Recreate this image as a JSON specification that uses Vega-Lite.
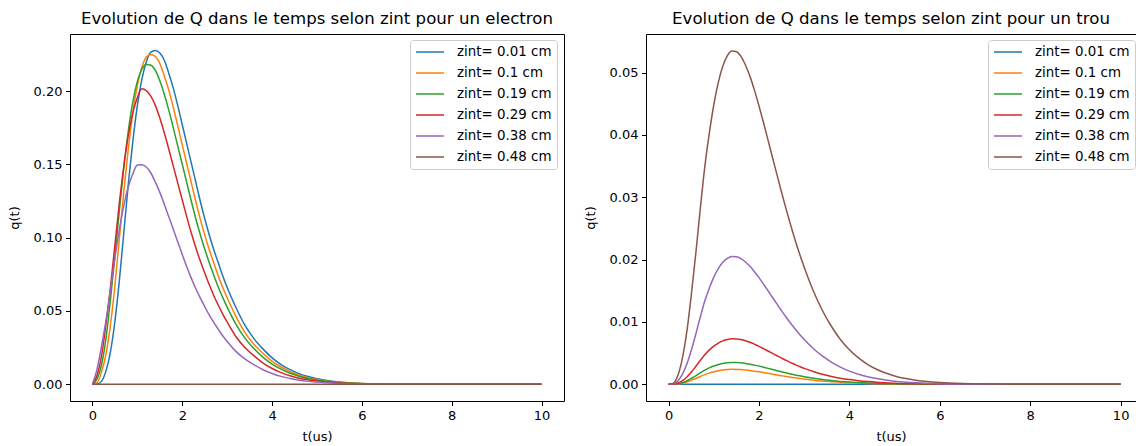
{
"$schema": "https://vega.github.io/schema/vega-lite/v6.json",
"background": "white",
"padding": {"left": 7, "top": 10, "right": 0, "bottom": 0},
"spacing": 82,
"bounds": "flush",
"config": {
 "font": "DejaVu Sans",
 "view": {"stroke": "black", "strokeWidth": 1},
 "axis": {"grid": false, "domain": false, "tickColor": "black", "tickSize": 4.5, "tickWidth": 1, "labelColor": "black", "labelFontSize": 13, "labelFont": "DejaVu Sans", "titleFont": "DejaVu Sans", "titleFontSize": 13, "titleFontWeight": "normal", "titleColor": "black", "labelPadding": 3.5},
 "axisY": {"titlePadding": 12},
 "axisX": {"titlePadding": 8},
 "title": {"fontSize": 16.6, "fontWeight": "normal", "color": "black", "font": "DejaVu Sans", "offset": 6, "anchor": "middle"},
 "legend": {"symbolType": "stroke", "symbolSize": 784, "symbolStrokeWidth": 1.5, "labelFontSize": 13.4, "labelFont": "DejaVu Sans", "labelColor": "black", "labelOffset": 12, "padding": 5, "fillColor": "white", "strokeColor": "#cccccc", "cornerRadius": 3, "clipHeight": 14, "rowPadding": 7, "labelLimit": 300},
 "line": {"strokeWidth": 1.5, "interpolate": "monotone"}
},
"datasets": {
"e": [
{"s":"zint= 0.01 cm","t":0,"q":0},{"s":"zint= 0.01 cm","t":0.1,"q":0.0002},{"s":"zint= 0.01 cm","t":0.2,"q":0.002},{"s":"zint= 0.01 cm","t":0.3,"q":0.009},{"s":"zint= 0.01 cm","t":0.4,"q":0.022},{"s":"zint= 0.01 cm","t":0.5,"q":0.043},{"s":"zint= 0.01 cm","t":0.6,"q":0.071},{"s":"zint= 0.01 cm","t":0.7,"q":0.104},{"s":"zint= 0.01 cm","t":0.8,"q":0.137},{"s":"zint= 0.01 cm","t":0.9,"q":0.166},{"s":"zint= 0.01 cm","t":1.0,"q":0.19},{"s":"zint= 0.01 cm","t":1.1,"q":0.208},{"s":"zint= 0.01 cm","t":1.2,"q":0.22},{"s":"zint= 0.01 cm","t":1.3,"q":0.2265},{"s":"zint= 0.01 cm","t":1.4,"q":0.2277},{"s":"zint= 0.01 cm","t":1.5,"q":0.226},{"s":"zint= 0.01 cm","t":1.6,"q":0.221},{"s":"zint= 0.01 cm","t":1.7,"q":0.212},{"s":"zint= 0.01 cm","t":1.8,"q":0.202},{"s":"zint= 0.01 cm","t":1.9,"q":0.19},{"s":"zint= 0.01 cm","t":2.0,"q":0.177},{"s":"zint= 0.01 cm","t":2.1,"q":0.164},{"s":"zint= 0.01 cm","t":2.2,"q":0.151},{"s":"zint= 0.01 cm","t":2.3,"q":0.138},{"s":"zint= 0.01 cm","t":2.4,"q":0.125},{"s":"zint= 0.01 cm","t":2.5,"q":0.113},{"s":"zint= 0.01 cm","t":2.6,"q":0.102},{"s":"zint= 0.01 cm","t":2.7,"q":0.092},{"s":"zint= 0.01 cm","t":2.8,"q":0.083},{"s":"zint= 0.01 cm","t":2.9,"q":0.074},{"s":"zint= 0.01 cm","t":3.0,"q":0.066},{"s":"zint= 0.01 cm","t":3.2,"q":0.052},{"s":"zint= 0.01 cm","t":3.4,"q":0.04},{"s":"zint= 0.01 cm","t":3.6,"q":0.031},{"s":"zint= 0.01 cm","t":3.8,"q":0.024},{"s":"zint= 0.01 cm","t":4.0,"q":0.018},{"s":"zint= 0.01 cm","t":4.2,"q":0.0135},{"s":"zint= 0.01 cm","t":4.4,"q":0.01},{"s":"zint= 0.01 cm","t":4.6,"q":0.0073},{"s":"zint= 0.01 cm","t":4.8,"q":0.0053},{"s":"zint= 0.01 cm","t":5.0,"q":0.0038},{"s":"zint= 0.01 cm","t":5.5,"q":0.0016},{"s":"zint= 0.01 cm","t":6,"q":0.0006},{"s":"zint= 0.01 cm","t":6.5,"q":0.0002},{"s":"zint= 0.01 cm","t":7,"q":0.0001},{"s":"zint= 0.01 cm","t":8,"q":0},{"s":"zint= 0.01 cm","t":10,"q":0},
{"s":"zint= 0.1 cm","t":0,"q":0},{"s":"zint= 0.1 cm","t":0.1,"q":0.001},{"s":"zint= 0.1 cm","t":0.2,"q":0.0082},{"s":"zint= 0.1 cm","t":0.3,"q":0.0204},{"s":"zint= 0.1 cm","t":0.4,"q":0.0404},{"s":"zint= 0.1 cm","t":0.5,"q":0.0674},{"s":"zint= 0.1 cm","t":0.6,"q":0.0995},{"s":"zint= 0.1 cm","t":0.7,"q":0.1321},{"s":"zint= 0.1 cm","t":0.8,"q":0.1611},{"s":"zint= 0.1 cm","t":0.9,"q":0.1853},{"s":"zint= 0.1 cm","t":1.0,"q":0.2037},{"s":"zint= 0.1 cm","t":1.1,"q":0.2162},{"s":"zint= 0.1 cm","t":1.2,"q":0.2232},{"s":"zint= 0.1 cm","t":1.3,"q":0.2249},{"s":"zint= 0.1 cm","t":1.4,"q":0.2235},{"s":"zint= 0.1 cm","t":1.5,"q":0.2188},{"s":"zint= 0.1 cm","t":1.6,"q":0.2103},{"s":"zint= 0.1 cm","t":1.7,"q":0.2006},{"s":"zint= 0.1 cm","t":1.8,"q":0.1889},{"s":"zint= 0.1 cm","t":1.9,"q":0.1762},{"s":"zint= 0.1 cm","t":2.0,"q":0.1633},{"s":"zint= 0.1 cm","t":2.1,"q":0.1505},{"s":"zint= 0.1 cm","t":2.2,"q":0.1376},{"s":"zint= 0.1 cm","t":2.3,"q":0.1248},{"s":"zint= 0.1 cm","t":2.4,"q":0.1128},{"s":"zint= 0.1 cm","t":2.5,"q":0.1019},{"s":"zint= 0.1 cm","t":2.6,"q":0.0919},{"s":"zint= 0.1 cm","t":2.7,"q":0.0829},{"s":"zint= 0.1 cm","t":2.8,"q":0.074},{"s":"zint= 0.1 cm","t":2.9,"q":0.066},{"s":"zint= 0.1 cm","t":3.0,"q":0.059},{"s":"zint= 0.1 cm","t":3.2,"q":0.046},{"s":"zint= 0.1 cm","t":3.4,"q":0.0351},{"s":"zint= 0.1 cm","t":3.6,"q":0.0271},{"s":"zint= 0.1 cm","t":3.8,"q":0.021},{"s":"zint= 0.1 cm","t":4.0,"q":0.0157},{"s":"zint= 0.1 cm","t":4.2,"q":0.0118},{"s":"zint= 0.1 cm","t":4.4,"q":0.0086},{"s":"zint= 0.1 cm","t":4.6,"q":0.0063},{"s":"zint= 0.1 cm","t":4.8,"q":0.0045},{"s":"zint= 0.1 cm","t":5.0,"q":0.0033},{"s":"zint= 0.1 cm","t":5.5,"q":0.0014},{"s":"zint= 0.1 cm","t":6,"q":0.0005},{"s":"zint= 0.1 cm","t":6.5,"q":0.0002},{"s":"zint= 0.1 cm","t":7,"q":0.0001},{"s":"zint= 0.1 cm","t":8,"q":0},{"s":"zint= 0.1 cm","t":10,"q":0},
{"s":"zint= 0.19 cm","t":0,"q":0},{"s":"zint= 0.19 cm","t":0.1,"q":0.0035},{"s":"zint= 0.19 cm","t":0.2,"q":0.013},{"s":"zint= 0.19 cm","t":0.3,"q":0.031},{"s":"zint= 0.19 cm","t":0.4,"q":0.0574},{"s":"zint= 0.19 cm","t":0.5,"q":0.0872},{"s":"zint= 0.19 cm","t":0.6,"q":0.1188},{"s":"zint= 0.19 cm","t":0.7,"q":0.1482},{"s":"zint= 0.19 cm","t":0.8,"q":0.1732},{"s":"zint= 0.19 cm","t":0.9,"q":0.1928},{"s":"zint= 0.19 cm","t":1.0,"q":0.2066},{"s":"zint= 0.19 cm","t":1.1,"q":0.2149},{"s":"zint= 0.19 cm","t":1.2,"q":0.2181},{"s":"zint= 0.19 cm","t":1.3,"q":0.2176},{"s":"zint= 0.19 cm","t":1.4,"q":0.2141},{"s":"zint= 0.19 cm","t":1.5,"q":0.207},{"s":"zint= 0.19 cm","t":1.6,"q":0.1978},{"s":"zint= 0.19 cm","t":1.7,"q":0.187},{"s":"zint= 0.19 cm","t":1.8,"q":0.1749},{"s":"zint= 0.19 cm","t":1.9,"q":0.1624},{"s":"zint= 0.19 cm","t":2.0,"q":0.15},{"s":"zint= 0.19 cm","t":2.1,"q":0.1375},{"s":"zint= 0.19 cm","t":2.2,"q":0.125},{"s":"zint= 0.19 cm","t":2.3,"q":0.1131},{"s":"zint= 0.19 cm","t":2.4,"q":0.1021},{"s":"zint= 0.19 cm","t":2.5,"q":0.0922},{"s":"zint= 0.19 cm","t":2.6,"q":0.0831},{"s":"zint= 0.19 cm","t":2.7,"q":0.0745},{"s":"zint= 0.19 cm","t":2.8,"q":0.0664},{"s":"zint= 0.19 cm","t":2.9,"q":0.0593},{"s":"zint= 0.19 cm","t":3.0,"q":0.0526},{"s":"zint= 0.19 cm","t":3.2,"q":0.0407},{"s":"zint= 0.19 cm","t":3.4,"q":0.0313},{"s":"zint= 0.19 cm","t":3.6,"q":0.0242},{"s":"zint= 0.19 cm","t":3.8,"q":0.0184},{"s":"zint= 0.19 cm","t":4.0,"q":0.0138},{"s":"zint= 0.19 cm","t":4.2,"q":0.0103},{"s":"zint= 0.19 cm","t":4.4,"q":0.0075},{"s":"zint= 0.19 cm","t":4.6,"q":0.0055},{"s":"zint= 0.19 cm","t":4.8,"q":0.0039},{"s":"zint= 0.19 cm","t":5.0,"q":0.0029},{"s":"zint= 0.19 cm","t":5.5,"q":0.0012},{"s":"zint= 0.19 cm","t":6,"q":0.0004},{"s":"zint= 0.19 cm","t":6.5,"q":0.0002},{"s":"zint= 0.19 cm","t":7,"q":0.0001},{"s":"zint= 0.19 cm","t":8,"q":0},{"s":"zint= 0.19 cm","t":10,"q":0},
{"s":"zint= 0.29 cm","t":0,"q":0},{"s":"zint= 0.29 cm","t":0.1,"q":0.006},{"s":"zint= 0.29 cm","t":0.2,"q":0.019},{"s":"zint= 0.29 cm","t":0.3,"q":0.0406},{"s":"zint= 0.29 cm","t":0.4,"q":0.0658},{"s":"zint= 0.29 cm","t":0.5,"q":0.0951},{"s":"zint= 0.29 cm","t":0.6,"q":0.124},{"s":"zint= 0.29 cm","t":0.7,"q":0.1492},{"s":"zint= 0.29 cm","t":0.8,"q":0.1699},{"s":"zint= 0.29 cm","t":0.9,"q":0.1854},{"s":"zint= 0.29 cm","t":1.0,"q":0.1955},{"s":"zint= 0.29 cm","t":1.1,"q":0.2015},{"s":"zint= 0.29 cm","t":1.2,"q":0.2003},{"s":"zint= 0.29 cm","t":1.3,"q":0.1965},{"s":"zint= 0.29 cm","t":1.4,"q":0.1902},{"s":"zint= 0.29 cm","t":1.5,"q":0.1816},{"s":"zint= 0.29 cm","t":1.6,"q":0.1715},{"s":"zint= 0.29 cm","t":1.7,"q":0.1603},{"s":"zint= 0.29 cm","t":1.8,"q":0.1488},{"s":"zint= 0.29 cm","t":1.9,"q":0.1372},{"s":"zint= 0.29 cm","t":2.0,"q":0.1257},{"s":"zint= 0.29 cm","t":2.1,"q":0.1142},{"s":"zint= 0.29 cm","t":2.2,"q":0.1033},{"s":"zint= 0.29 cm","t":2.3,"q":0.0933},{"s":"zint= 0.29 cm","t":2.4,"q":0.0842},{"s":"zint= 0.29 cm","t":2.5,"q":0.0759},{"s":"zint= 0.29 cm","t":2.6,"q":0.068},{"s":"zint= 0.29 cm","t":2.7,"q":0.0606},{"s":"zint= 0.29 cm","t":2.8,"q":0.0541},{"s":"zint= 0.29 cm","t":2.9,"q":0.0479},{"s":"zint= 0.29 cm","t":3.0,"q":0.0424},{"s":"zint= 0.29 cm","t":3.2,"q":0.0323},{"s":"zint= 0.29 cm","t":3.4,"q":0.025},{"s":"zint= 0.29 cm","t":3.6,"q":0.0194},{"s":"zint= 0.29 cm","t":3.8,"q":0.0145},{"s":"zint= 0.29 cm","t":4.0,"q":0.0108},{"s":"zint= 0.29 cm","t":4.2,"q":0.008},{"s":"zint= 0.29 cm","t":4.4,"q":0.0058},{"s":"zint= 0.29 cm","t":4.6,"q":0.0042},{"s":"zint= 0.29 cm","t":4.8,"q":0.0031},{"s":"zint= 0.29 cm","t":5.0,"q":0.0022},{"s":"zint= 0.29 cm","t":5.5,"q":0.0009},{"s":"zint= 0.29 cm","t":6,"q":0.0003},{"s":"zint= 0.29 cm","t":6.5,"q":0.0001},{"s":"zint= 0.29 cm","t":7,"q":0.0001},{"s":"zint= 0.29 cm","t":8,"q":0},{"s":"zint= 0.29 cm","t":10,"q":0},
{"s":"zint= 0.38 cm","t":0,"q":0},{"s":"zint= 0.38 cm","t":0.1,"q":0.01},{"s":"zint= 0.38 cm","t":0.2,"q":0.0256},{"s":"zint= 0.38 cm","t":0.3,"q":0.0432},{"s":"zint= 0.38 cm","t":0.4,"q":0.0643},{"s":"zint= 0.38 cm","t":0.5,"q":0.0861},{"s":"zint= 0.38 cm","t":0.6,"q":0.1057},{"s":"zint= 0.38 cm","t":0.7,"q":0.1222},{"s":"zint= 0.38 cm","t":0.8,"q":0.1349},{"s":"zint= 0.38 cm","t":0.9,"q":0.1436},{"s":"zint= 0.38 cm","t":1.0,"q":0.1495},{"s":"zint= 0.38 cm","t":1.1,"q":0.1498},{"s":"zint= 0.38 cm","t":1.2,"q":0.1482},{"s":"zint= 0.38 cm","t":1.3,"q":0.1441},{"s":"zint= 0.38 cm","t":1.4,"q":0.1379},{"s":"zint= 0.38 cm","t":1.5,"q":0.1309},{"s":"zint= 0.38 cm","t":1.6,"q":0.1228},{"s":"zint= 0.38 cm","t":1.7,"q":0.1142},{"s":"zint= 0.38 cm","t":1.8,"q":0.1057},{"s":"zint= 0.38 cm","t":1.9,"q":0.0971},{"s":"zint= 0.38 cm","t":2.0,"q":0.0885},{"s":"zint= 0.38 cm","t":2.1,"q":0.0801},{"s":"zint= 0.38 cm","t":2.2,"q":0.0724},{"s":"zint= 0.38 cm","t":2.3,"q":0.0653},{"s":"zint= 0.38 cm","t":2.4,"q":0.0589},{"s":"zint= 0.38 cm","t":2.5,"q":0.053},{"s":"zint= 0.38 cm","t":2.6,"q":0.0473},{"s":"zint= 0.38 cm","t":2.7,"q":0.0422},{"s":"zint= 0.38 cm","t":2.8,"q":0.0376},{"s":"zint= 0.38 cm","t":2.9,"q":0.0331},{"s":"zint= 0.38 cm","t":3.0,"q":0.0292},{"s":"zint= 0.38 cm","t":3.2,"q":0.0223},{"s":"zint= 0.38 cm","t":3.4,"q":0.0172},{"s":"zint= 0.38 cm","t":3.6,"q":0.0133},{"s":"zint= 0.38 cm","t":3.8,"q":0.0099},{"s":"zint= 0.38 cm","t":4.0,"q":0.0074},{"s":"zint= 0.38 cm","t":4.2,"q":0.0054},{"s":"zint= 0.38 cm","t":4.4,"q":0.004},{"s":"zint= 0.38 cm","t":4.6,"q":0.0028},{"s":"zint= 0.38 cm","t":4.8,"q":0.002},{"s":"zint= 0.38 cm","t":5.0,"q":0.0015},{"s":"zint= 0.38 cm","t":5.5,"q":0.0006},{"s":"zint= 0.38 cm","t":6,"q":0.0002},{"s":"zint= 0.38 cm","t":6.5,"q":0.0001},{"s":"zint= 0.38 cm","t":7,"q":0},{"s":"zint= 0.38 cm","t":8,"q":0},{"s":"zint= 0.38 cm","t":10,"q":0},
{"s":"zint= 0.48 cm","t":0,"q":0},{"s":"zint= 0.48 cm","t":10,"q":0}
],
"h": [
{"s":"zint= 0.01 cm","t":0,"q":0},{"s":"zint= 0.01 cm","t":10,"q":0},
{"s":"zint= 0.1 cm","t":0,"q":0},{"s":"zint= 0.1 cm","t":0.1,"q":0.00001},{"s":"zint= 0.1 cm","t":0.2,"q":0.00006},{"s":"zint= 0.1 cm","t":0.3,"q":0.00018},{"s":"zint= 0.1 cm","t":0.4,"q":0.00037},{"s":"zint= 0.1 cm","t":0.5,"q":0.00064},{"s":"zint= 0.1 cm","t":0.6,"q":0.00094},{"s":"zint= 0.1 cm","t":0.7,"q":0.00126},{"s":"zint= 0.1 cm","t":0.8,"q":0.00156},{"s":"zint= 0.1 cm","t":0.9,"q":0.0018},{"s":"zint= 0.1 cm","t":1.0,"q":0.00201},{"s":"zint= 0.1 cm","t":1.1,"q":0.00217},{"s":"zint= 0.1 cm","t":1.2,"q":0.00229},{"s":"zint= 0.1 cm","t":1.3,"q":0.00236},{"s":"zint= 0.1 cm","t":1.4,"q":0.0024},{"s":"zint= 0.1 cm","t":1.5,"q":0.00239},{"s":"zint= 0.1 cm","t":1.6,"q":0.00236},{"s":"zint= 0.1 cm","t":1.7,"q":0.0023},{"s":"zint= 0.1 cm","t":1.8,"q":0.00222},{"s":"zint= 0.1 cm","t":1.9,"q":0.00211},{"s":"zint= 0.1 cm","t":2.0,"q":0.002},{"s":"zint= 0.1 cm","t":2.1,"q":0.00188},{"s":"zint= 0.1 cm","t":2.2,"q":0.00176},{"s":"zint= 0.1 cm","t":2.3,"q":0.00163},{"s":"zint= 0.1 cm","t":2.4,"q":0.0015},{"s":"zint= 0.1 cm","t":2.5,"q":0.00138},{"s":"zint= 0.1 cm","t":2.6,"q":0.00126},{"s":"zint= 0.1 cm","t":2.7,"q":0.00115},{"s":"zint= 0.1 cm","t":2.8,"q":0.00104},{"s":"zint= 0.1 cm","t":2.9,"q":0.00094},{"s":"zint= 0.1 cm","t":3.0,"q":0.00084},{"s":"zint= 0.1 cm","t":3.2,"q":0.00067},{"s":"zint= 0.1 cm","t":3.4,"q":0.00053},{"s":"zint= 0.1 cm","t":3.6,"q":0.00042},{"s":"zint= 0.1 cm","t":3.8,"q":0.00032},{"s":"zint= 0.1 cm","t":4.0,"q":0.00025},{"s":"zint= 0.1 cm","t":4.2,"q":0.00019},{"s":"zint= 0.1 cm","t":4.4,"q":0.00014},{"s":"zint= 0.1 cm","t":4.6,"q":0.00011},{"s":"zint= 0.1 cm","t":4.8,"q":0.00008},{"s":"zint= 0.1 cm","t":5.0,"q":0.00006},{"s":"zint= 0.1 cm","t":5.5,"q":0.00003},{"s":"zint= 0.1 cm","t":6,"q":0.00001},{"s":"zint= 0.1 cm","t":6.5,"q":0},{"s":"zint= 0.1 cm","t":7,"q":0},{"s":"zint= 0.1 cm","t":8,"q":0},{"s":"zint= 0.1 cm","t":10,"q":0},
{"s":"zint= 0.19 cm","t":0,"q":0},{"s":"zint= 0.19 cm","t":0.1,"q":0.00001},{"s":"zint= 0.19 cm","t":0.2,"q":0.00009},{"s":"zint= 0.19 cm","t":0.3,"q":0.00026},{"s":"zint= 0.19 cm","t":0.4,"q":0.00054},{"s":"zint= 0.19 cm","t":0.5,"q":0.00093},{"s":"zint= 0.19 cm","t":0.6,"q":0.00137},{"s":"zint= 0.19 cm","t":0.7,"q":0.00184},{"s":"zint= 0.19 cm","t":0.8,"q":0.00228},{"s":"zint= 0.19 cm","t":0.9,"q":0.00263},{"s":"zint= 0.19 cm","t":1.0,"q":0.00293},{"s":"zint= 0.19 cm","t":1.1,"q":0.00317},{"s":"zint= 0.19 cm","t":1.2,"q":0.00334},{"s":"zint= 0.19 cm","t":1.3,"q":0.00345},{"s":"zint= 0.19 cm","t":1.4,"q":0.0035},{"s":"zint= 0.19 cm","t":1.5,"q":0.00349},{"s":"zint= 0.19 cm","t":1.6,"q":0.00344},{"s":"zint= 0.19 cm","t":1.7,"q":0.00335},{"s":"zint= 0.19 cm","t":1.8,"q":0.00323},{"s":"zint= 0.19 cm","t":1.9,"q":0.00308},{"s":"zint= 0.19 cm","t":2.0,"q":0.00292},{"s":"zint= 0.19 cm","t":2.1,"q":0.00274},{"s":"zint= 0.19 cm","t":2.2,"q":0.00256},{"s":"zint= 0.19 cm","t":2.3,"q":0.00238},{"s":"zint= 0.19 cm","t":2.4,"q":0.00219},{"s":"zint= 0.19 cm","t":2.5,"q":0.00201},{"s":"zint= 0.19 cm","t":2.6,"q":0.00184},{"s":"zint= 0.19 cm","t":2.7,"q":0.00167},{"s":"zint= 0.19 cm","t":2.8,"q":0.00151},{"s":"zint= 0.19 cm","t":2.9,"q":0.00137},{"s":"zint= 0.19 cm","t":3.0,"q":0.00123},{"s":"zint= 0.19 cm","t":3.2,"q":0.00098},{"s":"zint= 0.19 cm","t":3.4,"q":0.00078},{"s":"zint= 0.19 cm","t":3.6,"q":0.00061},{"s":"zint= 0.19 cm","t":3.8,"q":0.00047},{"s":"zint= 0.19 cm","t":4.0,"q":0.00036},{"s":"zint= 0.19 cm","t":4.2,"q":0.00028},{"s":"zint= 0.19 cm","t":4.4,"q":0.00021},{"s":"zint= 0.19 cm","t":4.6,"q":0.00016},{"s":"zint= 0.19 cm","t":4.8,"q":0.00012},{"s":"zint= 0.19 cm","t":5.0,"q":0.00009},{"s":"zint= 0.19 cm","t":5.5,"q":0.00004},{"s":"zint= 0.19 cm","t":6,"q":0.00002},{"s":"zint= 0.19 cm","t":6.5,"q":0.00001},{"s":"zint= 0.19 cm","t":7,"q":0},{"s":"zint= 0.19 cm","t":8,"q":0},{"s":"zint= 0.19 cm","t":10,"q":0},
{"s":"zint= 0.29 cm","t":0,"q":0},{"s":"zint= 0.29 cm","t":0.1,"q":0.00002},{"s":"zint= 0.29 cm","t":0.2,"q":0.00018},{"s":"zint= 0.29 cm","t":0.3,"q":0.00055},{"s":"zint= 0.29 cm","t":0.4,"q":0.00113},{"s":"zint= 0.29 cm","t":0.5,"q":0.00193},{"s":"zint= 0.29 cm","t":0.6,"q":0.00285},{"s":"zint= 0.29 cm","t":0.7,"q":0.00383},{"s":"zint= 0.29 cm","t":0.8,"q":0.00475},{"s":"zint= 0.29 cm","t":0.9,"q":0.00549},{"s":"zint= 0.29 cm","t":1.0,"q":0.00612},{"s":"zint= 0.29 cm","t":1.1,"q":0.00661},{"s":"zint= 0.29 cm","t":1.2,"q":0.00696},{"s":"zint= 0.29 cm","t":1.3,"q":0.00719},{"s":"zint= 0.29 cm","t":1.4,"q":0.00729},{"s":"zint= 0.29 cm","t":1.5,"q":0.00728},{"s":"zint= 0.29 cm","t":1.6,"q":0.00718},{"s":"zint= 0.29 cm","t":1.7,"q":0.00699},{"s":"zint= 0.29 cm","t":1.8,"q":0.00674},{"s":"zint= 0.29 cm","t":1.9,"q":0.00643},{"s":"zint= 0.29 cm","t":2.0,"q":0.00609},{"s":"zint= 0.29 cm","t":2.1,"q":0.00572},{"s":"zint= 0.29 cm","t":2.2,"q":0.00534},{"s":"zint= 0.29 cm","t":2.3,"q":0.00496},{"s":"zint= 0.29 cm","t":2.4,"q":0.00458},{"s":"zint= 0.29 cm","t":2.5,"q":0.0042},{"s":"zint= 0.29 cm","t":2.6,"q":0.00383},{"s":"zint= 0.29 cm","t":2.7,"q":0.00349},{"s":"zint= 0.29 cm","t":2.8,"q":0.00315},{"s":"zint= 0.29 cm","t":2.9,"q":0.00285},{"s":"zint= 0.29 cm","t":3.0,"q":0.00256},{"s":"zint= 0.29 cm","t":3.2,"q":0.00205},{"s":"zint= 0.29 cm","t":3.4,"q":0.00162},{"s":"zint= 0.29 cm","t":3.6,"q":0.00127},{"s":"zint= 0.29 cm","t":3.8,"q":0.00098},{"s":"zint= 0.29 cm","t":4.0,"q":0.00076},{"s":"zint= 0.29 cm","t":4.2,"q":0.00058},{"s":"zint= 0.29 cm","t":4.4,"q":0.00044},{"s":"zint= 0.29 cm","t":4.6,"q":0.00033},{"s":"zint= 0.29 cm","t":4.8,"q":0.00025},{"s":"zint= 0.29 cm","t":5.0,"q":0.00018},{"s":"zint= 0.29 cm","t":5.5,"q":0.00009},{"s":"zint= 0.29 cm","t":6,"q":0.00004},{"s":"zint= 0.29 cm","t":6.5,"q":0.00002},{"s":"zint= 0.29 cm","t":7,"q":0.00001},{"s":"zint= 0.29 cm","t":8,"q":0},{"s":"zint= 0.29 cm","t":10,"q":0},
{"s":"zint= 0.38 cm","t":0,"q":0},{"s":"zint= 0.38 cm","t":0.1,"q":0.00006},{"s":"zint= 0.38 cm","t":0.2,"q":0.00051},{"s":"zint= 0.38 cm","t":0.3,"q":0.00154},{"s":"zint= 0.38 cm","t":0.4,"q":0.00318},{"s":"zint= 0.38 cm","t":0.5,"q":0.00543},{"s":"zint= 0.38 cm","t":0.6,"q":0.008},{"s":"zint= 0.38 cm","t":0.7,"q":0.01076},{"s":"zint= 0.38 cm","t":0.8,"q":0.01335},{"s":"zint= 0.38 cm","t":0.9,"q":0.01542},{"s":"zint= 0.38 cm","t":1.0,"q":0.01718},{"s":"zint= 0.38 cm","t":1.1,"q":0.01855},{"s":"zint= 0.38 cm","t":1.2,"q":0.01956},{"s":"zint= 0.38 cm","t":1.3,"q":0.02019},{"s":"zint= 0.38 cm","t":1.4,"q":0.02048},{"s":"zint= 0.38 cm","t":1.5,"q":0.02044},{"s":"zint= 0.38 cm","t":1.6,"q":0.02015},{"s":"zint= 0.38 cm","t":1.7,"q":0.01962},{"s":"zint= 0.38 cm","t":1.8,"q":0.01892},{"s":"zint= 0.38 cm","t":1.9,"q":0.01806},{"s":"zint= 0.38 cm","t":2.0,"q":0.0171},{"s":"zint= 0.38 cm","t":2.1,"q":0.01607},{"s":"zint= 0.38 cm","t":2.2,"q":0.01501},{"s":"zint= 0.38 cm","t":2.3,"q":0.01392},{"s":"zint= 0.38 cm","t":2.4,"q":0.01285},{"s":"zint= 0.38 cm","t":2.5,"q":0.01179},{"s":"zint= 0.38 cm","t":2.6,"q":0.01076},{"s":"zint= 0.38 cm","t":2.7,"q":0.00979},{"s":"zint= 0.38 cm","t":2.8,"q":0.00886},{"s":"zint= 0.38 cm","t":2.9,"q":0.008},{"s":"zint= 0.38 cm","t":3.0,"q":0.0072},{"s":"zint= 0.38 cm","t":3.2,"q":0.00575},{"s":"zint= 0.38 cm","t":3.4,"q":0.00455},{"s":"zint= 0.38 cm","t":3.6,"q":0.00357},{"s":"zint= 0.38 cm","t":3.8,"q":0.00276},{"s":"zint= 0.38 cm","t":4.0,"q":0.00212},{"s":"zint= 0.38 cm","t":4.2,"q":0.00162},{"s":"zint= 0.38 cm","t":4.4,"q":0.00123},{"s":"zint= 0.38 cm","t":4.6,"q":0.00092},{"s":"zint= 0.38 cm","t":4.8,"q":0.0007},{"s":"zint= 0.38 cm","t":5.0,"q":0.00051},{"s":"zint= 0.38 cm","t":5.5,"q":0.00024},{"s":"zint= 0.38 cm","t":6,"q":0.00011},{"s":"zint= 0.38 cm","t":6.5,"q":0.00005},{"s":"zint= 0.38 cm","t":7,"q":0.00002},{"s":"zint= 0.38 cm","t":8,"q":0},{"s":"zint= 0.38 cm","t":10,"q":0},
{"s":"zint= 0.48 cm","t":0,"q":0},{"s":"zint= 0.48 cm","t":0.1,"q":0.00016},{"s":"zint= 0.48 cm","t":0.2,"q":0.00134},{"s":"zint= 0.48 cm","t":0.3,"q":0.00401},{"s":"zint= 0.48 cm","t":0.4,"q":0.00829},{"s":"zint= 0.48 cm","t":0.5,"q":0.01418},{"s":"zint= 0.48 cm","t":0.6,"q":0.02087},{"s":"zint= 0.48 cm","t":0.7,"q":0.02809},{"s":"zint= 0.48 cm","t":0.8,"q":0.03483},{"s":"zint= 0.48 cm","t":0.9,"q":0.04023},{"s":"zint= 0.48 cm","t":1.0,"q":0.04483},{"s":"zint= 0.48 cm","t":1.1,"q":0.04842},{"s":"zint= 0.48 cm","t":1.2,"q":0.05104},{"s":"zint= 0.48 cm","t":1.3,"q":0.0527},{"s":"zint= 0.48 cm","t":1.4,"q":0.05345},{"s":"zint= 0.48 cm","t":1.5,"q":0.05334},{"s":"zint= 0.48 cm","t":1.6,"q":0.05259},{"s":"zint= 0.48 cm","t":1.7,"q":0.0512},{"s":"zint= 0.48 cm","t":1.8,"q":0.04938},{"s":"zint= 0.48 cm","t":1.9,"q":0.04713},{"s":"zint= 0.48 cm","t":2.0,"q":0.04462},{"s":"zint= 0.48 cm","t":2.1,"q":0.04194},{"s":"zint= 0.48 cm","t":2.2,"q":0.03916},{"s":"zint= 0.48 cm","t":2.3,"q":0.03633},{"s":"zint= 0.48 cm","t":2.4,"q":0.03354},{"s":"zint= 0.48 cm","t":2.5,"q":0.03076},{"s":"zint= 0.48 cm","t":2.6,"q":0.02809},{"s":"zint= 0.48 cm","t":2.7,"q":0.02555},{"s":"zint= 0.48 cm","t":2.8,"q":0.02311},{"s":"zint= 0.48 cm","t":2.9,"q":0.02087},{"s":"zint= 0.48 cm","t":3.0,"q":0.01878},{"s":"zint= 0.48 cm","t":3.2,"q":0.01501},{"s":"zint= 0.48 cm","t":3.4,"q":0.01188},{"s":"zint= 0.48 cm","t":3.6,"q":0.00931},{"s":"zint= 0.48 cm","t":3.8,"q":0.0072},{"s":"zint= 0.48 cm","t":4.0,"q":0.00554},{"s":"zint= 0.48 cm","t":4.2,"q":0.00423},{"s":"zint= 0.48 cm","t":4.4,"q":0.00321},{"s":"zint= 0.48 cm","t":4.6,"q":0.00241},{"s":"zint= 0.48 cm","t":4.8,"q":0.00182},{"s":"zint= 0.48 cm","t":5.0,"q":0.00134},{"s":"zint= 0.48 cm","t":5.5,"q":0.00063},{"s":"zint= 0.48 cm","t":6,"q":0.00029},{"s":"zint= 0.48 cm","t":6.5,"q":0.00013},{"s":"zint= 0.48 cm","t":7,"q":0.00006},{"s":"zint= 0.48 cm","t":8,"q":0.00001},{"s":"zint= 0.48 cm","t":10,"q":0}
]
},
"hconcat": [
{
 "width": 494, "height": 367,
 "title": "Evolution de Q dans le temps selon zint pour un electron",
 "data": {"name": "e"},
 "mark": {"type": "line", "clip": true},
 "encoding": {
  "x": {"field": "t", "type": "quantitative", "scale": {"domain": [-0.5, 10.5], "nice": false, "zero": false}, "axis": {"values": [0,2,4,6,8,10], "format": "d", "title": "t(us)"}},
  "y": {"field": "q", "type": "quantitative", "scale": {"domain": [-0.01138, 0.23888], "nice": false, "zero": false}, "axis": {"values": [0,0.05,0.1,0.15,0.2], "format": ".2f", "title": "q(t)"}},
  "color": {"field": "s", "type": "nominal", "scale": {"domain": ["zint= 0.01 cm","zint= 0.1 cm","zint= 0.19 cm","zint= 0.29 cm","zint= 0.38 cm","zint= 0.48 cm"], "range": ["#1f77b4","#ff7f0e","#2ca02c","#d62728","#9467bd","#8c564b"]}, "legend": {"orient": "none", "legendX": 340, "legendY": 6, "title": null}}
 }
},
{
 "width": 490, "height": 367,
 "title": "Evolution de Q dans le temps selon zint pour un trou",
 "data": {"name": "h"},
 "mark": {"type": "line", "clip": true},
 "encoding": {
  "x": {"field": "t", "type": "quantitative", "scale": {"domain": [-0.5, 10.34], "nice": false, "zero": false}, "axis": {"values": [0,2,4,6,8,10], "format": "d", "title": "t(us)"}},
  "y": {"field": "q", "type": "quantitative", "scale": {"domain": [-0.002675, 0.056175], "nice": false, "zero": false}, "axis": {"values": [0,0.01,0.02,0.03,0.04,0.05], "format": ".2f", "title": "q(t)"}},
  "color": {"field": "s", "type": "nominal", "scale": {"domain": ["zint= 0.01 cm","zint= 0.1 cm","zint= 0.19 cm","zint= 0.29 cm","zint= 0.38 cm","zint= 0.48 cm"], "range": ["#1f77b4","#ff7f0e","#2ca02c","#d62728","#9467bd","#8c564b"]}, "legend": {"orient": "none", "legendX": 342, "legendY": 6, "title": null}}
 }
}
],
"resolve": {"scale": {"color": "independent", "x": "independent", "y": "independent"}, "legend": {"color": "independent"}}
}
